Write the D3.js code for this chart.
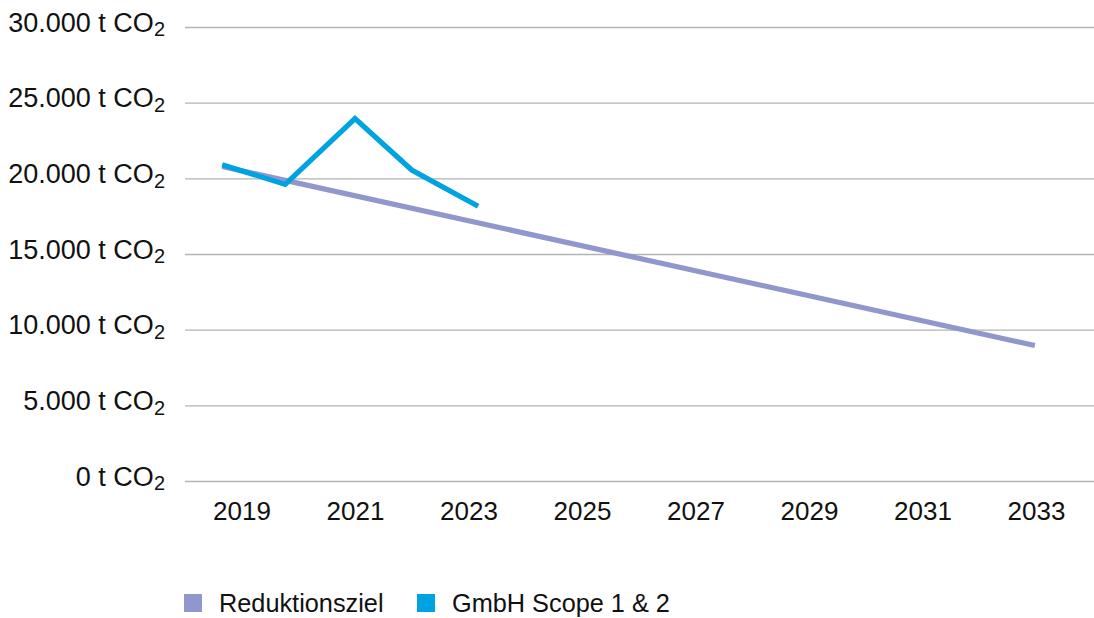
<!DOCTYPE html>
<html>
<head>
<meta charset="utf-8">
<script src="https://cdn.jsdelivr.net/npm/d3@7"></script>
<style>
  html, body { margin: 0; padding: 0; background: #fff; }
  svg { display: block; font-family: "Liberation Sans", Arial, Helvetica, sans-serif; }
</style>
</head>
<body>
<svg id="chart" width="1094" height="618"></svg>
<script>
// ---- data ----
const yTicks = [0, 5000, 10000, 15000, 20000, 25000, 30000];
const xTickYears = [2019, 2021, 2023, 2025, 2027, 2029, 2031, 2033];

const zielYears = [2018.66, 2032.98];
const zielValues = [20780, 8950];

const gmbhYears = [2018.66, 2019.77, 2021.0, 2022.0, 2023.17];
const gmbhValues = [20900, 19600, 23950, 20550, 18150];

const seriesNames = ["Reduktionsziel", "GmbH Scope 1 & 2"];
const seriesColors = ["#8f97cc", "#00a3e1"];

// ---- layout ----
const svg = d3.select("#chart");
const gridLeft = 185, gridRight = 1094;

const x = d3.scaleLinear().domain([2019, 2033]).range([241.5, 1036]);
const y = d3.scaleLinear().domain([0, 30000]).range([481, 27]);

const de = d3.formatLocale({decimal: ",", thousands: ".", grouping: [3], currency: ["", " €"]});
const fmt = de.format(",");

// gridlines
svg.append("g").selectAll("line").data(yTicks).join("line")
  .attr("x1", gridLeft).attr("x2", gridRight)
  .attr("y1", d => y(d) + 0.5).attr("y2", d => y(d) + 0.5)
  .attr("stroke", "#b3b3b3").attr("stroke-width", 1.3);

// y labels with subscript
const yl = svg.append("g").selectAll("text").data(yTicks).join("text")
  .attr("x", 165).attr("y", d => y(d) + 4.7)
  .attr("text-anchor", "end")
  .attr("font-size", 27).attr("fill", "#111");
yl.append("tspan").text(d => fmt(d) + " t CO");
yl.append("tspan").attr("font-size", 20).attr("dy", 4.5).text("2");

// x axis labels
const xAxis = d3.axisBottom(x).tickValues(xTickYears).tickFormat(d3.format("d")).tickSize(0);
const gx = svg.append("g").attr("transform", "translate(0,499)").call(xAxis);
gx.select(".domain").remove();
gx.selectAll("text").attr("font-size", 26).attr("fill", "#111")
  .attr("font-family", "Liberation Sans, Arial, Helvetica, sans-serif").attr("dy", "0.71em");

// lines
const line = d3.line().x(d => x(d[0])).y(d => y(d[1])).curve(d3.curveLinear);
svg.append("path")
  .datum(d3.zip(zielYears, zielValues))
  .attr("d", line).attr("fill", "none")
  .attr("stroke", seriesColors[0]).attr("stroke-width", 5.2);
svg.append("path")
  .datum(d3.zip(gmbhYears, gmbhValues))
  .attr("d", line).attr("fill", "none")
  .attr("stroke", seriesColors[1]).attr("stroke-width", 5.2)
  .attr("stroke-linejoin", "miter");

// legend
const legendX = [184, 417];
const lg = svg.append("g").selectAll("g").data(seriesNames).join("g")
  .attr("transform", (d, i) => `translate(${legendX[i]},594)`);
lg.append("rect").attr("width", 18).attr("height", 18).attr("fill", (d, i) => seriesColors[i]);
lg.append("text").attr("x", 35).attr("y", 18.3)
  .attr("font-size", 25.3).attr("fill", "#111").text(d => d);
</script>
</body>
</html>
